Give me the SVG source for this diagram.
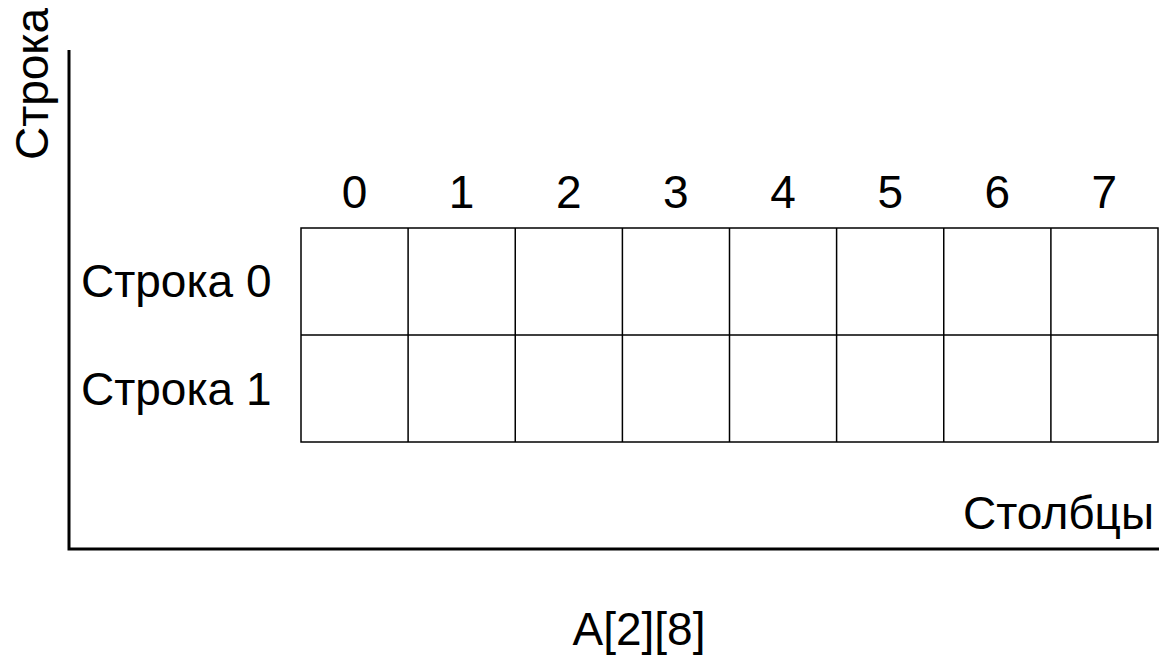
<svg xmlns="http://www.w3.org/2000/svg" width="1159" height="657" viewBox="0 0 1159 657">
<style>
text{font-family:"Liberation Sans",Arial,sans-serif;font-size:46px;fill:#000}
.c{text-anchor:middle}
.cell{fill:#fff;stroke:#000;stroke-width:1.5}
.axis{stroke:#000;stroke-width:3;fill:none}
</style>
<rect width="1159" height="657" fill="#fff"/>
<g id="axes">
<polyline class="axis" points="69,50 69,549 1159,549"/>
</g>
<g id="grid">
<rect class="cell" x="301" y="228" width="857" height="214"/>
<path d="M408.1 228V442M515.25 228V442M622.4 228V442M729.5 228V442M836.6 228V442M943.75 228V442M1050.9 228V442M301 335H1158" stroke="#000" stroke-width="1.5" fill="none"/>
</g>
<g id="col-labels">
<text class="c" x="354.5" y="208">0</text>
<text class="c" x="461.6" y="208">1</text>
<text class="c" x="568.7" y="208">2</text>
<text class="c" x="675.8" y="208">3</text>
<text class="c" x="783" y="208">4</text>
<text class="c" x="890.2" y="208">5</text>
<text class="c" x="997.3" y="208">6</text>
<text class="c" x="1104.4" y="208">7</text>
</g>
<g id="row-labels">
<text x="81" y="297">Строка 0</text>
<text x="81" y="405">Строка 1</text>
</g>
<text id="y-title" class="c" transform="translate(48,84) rotate(-90)">Строка</text>
<text id="x-title" x="1154" y="529" text-anchor="end">Столбцы</text>
<text id="caption" class="c" x="639" y="645">A[2][8]</text>
</svg>
